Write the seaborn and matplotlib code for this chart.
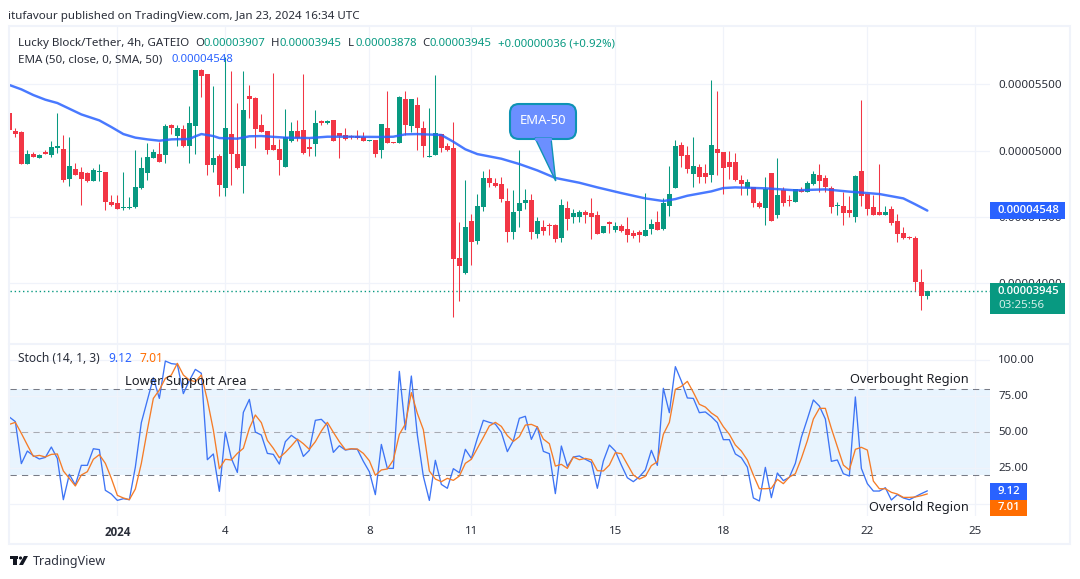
import numpy as np
import pandas as pd
import seaborn as sns
import matplotlib.pyplot as plt
from matplotlib.patches import FancyBboxPatch, Polygon, Rectangle, Circle
from matplotlib.transforms import ScaledTranslation

# prices are in units of 1e-8 USDT
opens = [5286,5150,5140,4899,4974,4944,4990,4967,5020,5012,
         4786,4861,4839,4831,4771,4841,4839,4613,4605,4570,
         4570,4575,4718,4831,4944,4974,4967,5193,5110,5163,
         5035,5186,5608,5577,4892,4959,4718,5125,4974,4884,
         5412,5397,5193,5148,5042,5012,4876,5072,5148,5155,
         5027,5050,5221,5211,5231,5133,5118,5110,5110,5100,
         5075,5080,5005,5170,5065,5057,5389,5186,5344,5170,
         4954,4967,5125,5035,5020,4191,4077,4469,4319,4575,
         4794,4756,4748,4620,4386,4545,4605,4628,4371,4424,
         4442,4439,4341,4567,4500,4500,4537,4530,4515,4379,
         4459,4402,4432,4409,4379,4386,4356,4409,4462,4409,
         4582,4718,5042,4967,4824,4876,4831,4816,5012,4990,
         4914,4914,4778,4718,4726,4605,4567,4831,4515,4703,
         4628,4613,4703,4688,4748,4816,4794,4718,4585,4582,
         4552,4500,4846,4673,4575,4537,4515,4560,4469,4379,
         4349,4341,4010,3907]
highs = [5286,5173,5148,5005,4990,4974,5005,5072,5283,5118,
         5103,4907,4876,4839,4869,4899,4839,4665,4665,4839,
         4650,5005,4952,5057,5012,5065,5201,5201,5193,5193,
         5336,5608,5615,5577,5487,4974,5708,5600,5359,5600,
         5495,5404,5276,5148,5585,5088,5314,5216,5231,5577,
         5095,5306,5231,5231,5231,5133,5170,5118,5155,5140,
         5080,5080,5201,5449,5065,5412,5449,5389,5404,5223,
         5321,5570,5125,5057,5216,4462,4778,4522,4673,4846,
         4861,4794,4801,4718,4703,5005,4711,4673,4500,4477,
         4454,4447,4635,4620,4560,4552,4552,4643,4545,4432,
         4469,4462,4447,4500,4402,4402,4680,4484,4545,4643,
         4884,5080,5065,5035,5103,4899,4899,5532,5449,4990,
         4997,4982,4816,4786,4726,4620,4801,4831,4944,4726,
         4665,4711,4726,4771,4846,4899,4816,4733,4613,4688,
         4658,4816,5382,4673,4665,4899,4582,4582,4522,4424,
         4356,4356,4108,3945]
lows = [5155,5105,4899,4899,4952,4944,4972,4954,4982,4766,
        4733,4816,4590,4763,4771,4771,4552,4582,4560,4552,
        4560,4565,4711,4778,4944,4914,4907,5125,5035,5027,
        4907,4974,5404,4816,4839,4658,4658,4741,4861,4680,
        5246,5020,5140,4974,5005,4816,4876,5065,5072,4974,
        4959,4959,5193,5201,5072,4944,5080,5090,5090,5072,
        5075,4952,4944,5057,5060,5057,5118,5140,5005,4952,
        4954,4967,4990,5000,3746,3866,4070,4138,4296,4545,
        4726,4726,4613,4311,4334,4424,4560,4334,4341,4364,
        4364,4311,4311,4402,4454,4462,4454,4334,4371,4379,
        4379,4386,4386,4311,4341,4311,4356,4371,4402,4402,
        4507,4718,4876,4831,4726,4756,4756,4763,4816,4673,
        4786,4771,4665,4665,4575,4565,4439,4469,4492,4582,
        4582,4613,4688,4688,4741,4688,4688,4530,4515,4439,
        4500,4462,4582,4515,4515,4515,4515,4439,4311,4334,
        4334,3942,3799,3878]
closes = [5155,5125,4899,4974,4952,4967,4974,5027,5035,4778,
          4884,4816,4786,4771,4854,4846,4613,4590,4560,4575,
          4575,4726,4869,4952,4990,4914,5186,5170,5170,5035,
          5208,5608,5562,4892,4944,4741,5170,4974,4869,5306,
          5389,5163,5140,5005,5005,4929,5103,5148,5095,4982,
          5012,5208,5211,5221,5072,5110,5088,5103,5098,5075,
          5080,4974,5201,5057,5060,5404,5193,5389,5170,5035,
          4959,5133,5020,5005,4183,4130,4424,4311,4582,4794,
          4756,4733,4635,4386,4537,4605,4628,4386,4469,4394,
          4434,4334,4590,4484,4530,4537,4515,4500,4371,4432,
          4449,4432,4394,4364,4356,4364,4402,4447,4402,4605,
          4673,5035,4959,4861,4884,4801,4801,5042,4982,4869,
          4876,4778,4748,4763,4605,4575,4711,4469,4665,4605,
          4620,4711,4688,4756,4824,4771,4726,4575,4590,4530,
          4530,4809,4658,4560,4515,4515,4537,4454,4371,4341,
          4341,4010,3904,3945]

ema_bars = [0,2,4,6,8,10,12,15,17,19,21,23,25,27,30,31,32,34,35,38,40,42,46,50,53,57,62,64,66,68,72,
            74,76,78,82,85,88,91,95,98,102,106,109,111,113,117,119,121,126,131,136,140,145,149,151,153]
ema_vals = [5495,5462,5419,5384,5359,5316,5273,5228,5178,5125,5098,5085,5075,5085,5088,5108,5125,5110,5095,5090,5108,5110,5098,5095,5105,5105,5103,5105,5123,5125,5118,
            5067,5010,4974,4939,4899,4851,4794,4758,4723,4680,4640,4620,4635,4660,4693,4718,4723,4716,4701,4708,4691,4673,4640,4595,4548]

stoch_k = [60.3,57.1,28.0,36.7,33.5,31.2,32.3,39.5,31.6,3.0,
           20.6,13.2,26.8,26.8,38.3,37.7,9.5,6.9,2.5,3.7,
           3.0,25.6,56.4,72.1,87.5,73.2,99.1,97.3,96.8,76.5,
           85.5,93.3,90.6,30.7,34.7,8.8,49.9,31.6,21.9,63.5,
           72.5,49.9,47.8,35.1,34.4,27.7,43.2,47.6,44.6,33.0,
           37.2,58.0,58.7,54.5,35.8,40.4,37.4,38.1,37.9,29.6,
           22.4,6.5,41.3,24.7,24.7,91.9,51.5,88.7,47.8,19.2,
           2.5,30.3,13.6,10.9,24.5,21.7,37.9,31.6,45.5,58.0,
           56.6,55.4,49.7,36.3,43.9,59.4,60.8,44.8,53.6,36.5,
           34.9,7.2,40.2,26.1,32.6,33.3,31.0,28.9,10.9,29.8,
           40.9,36.7,27.0,18.2,15.5,18.9,23.6,37.2,26.8,80.2,
           63.3,95.2,85.2,73.5,73.2,63.3,63.8,60.5,56.4,44.6,
           44.6,34.7,32.1,25.6,4.2,2.1,25.4,4.4,21.5,16.2,
           18.5,28.2,46.2,58.9,72.1,67.9,58.9,29.6,30.5,21.0,
           19.4,74.2,24.7,14.1,9.0,9.0,11.3,2.8,6.5,4.2,
           3.0,5.1,7.2,9.12]
stoch_d = [55.2,56.6,49.0,40.9,33.0,33.7,32.6,34.4,34.7,22.9,
           17.8,12.5,20.1,22.4,31.0,34.2,28.2,17.8,6.0,4.2,
           3.0,10.4,28.2,51.3,73.2,79.0,87.1,89.4,97.5,89.4,
           85.9,84.8,89.4,72.1,51.3,24.5,31.0,30.5,35.1,38.6,
           52.4,61.7,56.4,44.1,38.6,32.1,35.8,40.2,45.0,41.8,
           37.9,43.2,50.6,56.6,49.7,43.2,37.7,38.3,38.1,35.1,
           30.0,19.9,23.6,24.3,30.5,48.3,55.4,77.2,62.8,51.5,
           22.9,17.3,15.5,17.8,16.4,19.4,28.2,31.0,38.6,46.2,
           54.1,56.6,53.8,47.4,43.4,46.7,54.7,55.2,53.4,45.0,
           41.8,26.3,27.5,24.7,32.6,30.7,31.6,30.7,23.1,22.9,
           27.0,35.6,34.9,27.5,20.1,17.3,19.2,26.6,29.3,48.3,
           56.6,79.5,81.5,85.0,77.4,69.1,67.2,63.1,60.3,53.6,
           48.3,40.9,36.7,30.5,20.1,10.6,10.6,10.9,17.1,14.1,
           18.7,21.0,31.6,43.9,58.9,66.3,66.3,52.4,39.7,27.0,
           23.6,37.9,39.3,37.4,15.9,10.6,10.6,8.1,6.9,4.6,
           4.6,4.9,5.8,7.01]

price_ticks = [4000, 4500, 5000, 5500]
stoch_ticks = [0, 25, 50, 75, 100]
stoch_tick_labels = ['', '25.00', '50.00', '75.00', '100.00']
date_bars = [18, 36, 60, 77, 101, 119, 143, 161]
date_labels = ['2024', '4', '8', '11', '15', '18', '22', '25']

GREEN = '#089981'
RED = '#f23645'
BLUE = '#2962ff'
ORANGE = '#ff6d00'
GRID = '#f0f3fa'
TEXT = '#2a2e39'
BOLD_FONT = ['Open Sans', 'DejaVu Sans']

sns.set_theme(style='white')
plt.rcParams['font.family'] = ['Noto Sans', 'DejaVu Sans']

W, H = 1080, 579
fig = plt.figure(figsize=(W / 100, H / 100), dpi=100, facecolor='white')


def pane(x0, y0, x1, y1):
    return fig.add_axes([x0 / W, 1 - y1 / H, (x1 - x0) / W, (y1 - y0) / H])


ax_p = pane(10, 27, 990, 343)
ax_s = pane(10, 345, 990, 516)
df = pd.DataFrame({'open': opens, 'high': highs, 'low': lows, 'close': closes})
df['bar'] = df.index
df['up'] = df.close >= df.open
colors = df.up.map({True: GREEN, False: RED})

# candles
ax_p.vlines(df.bar, df.low, df.high, colors=colors, lw=0.75, zorder=2)
ax_p.bar(df.bar, (df.close - df.open).abs().clip(lower=6), bottom=df[['open', 'close']].min(axis=1),
         width=0.8, color=colors, lw=0, zorder=3)
sns.lineplot(x=ema_bars, y=ema_vals, ax=ax_p, color=BLUE, lw=1.75, alpha=0.85, zorder=4)
ax_p.axhline(closes[-1], color=GREEN, lw=1, ls=(0, (1, 2)), zorder=1)

# stochastic
ax_s.axhspan(20, 80, color='#e8f4fe', lw=0, zorder=0)
bars = np.arange(len(stoch_k))
sns.lineplot(x=bars, y=stoch_k, ax=ax_s, color='#3d74f5', lw=0.95, zorder=4)
sns.lineplot(x=bars, y=stoch_d, ax=ax_s, color='#f57c28', lw=0.95, zorder=5)
ax_s.axhline(80, color='#787b86', lw=0.75, ls=(0, (6, 5)), zorder=2)
ax_s.axhline(50, color='#a8abb3', lw=0.75, ls=(0, (6, 5)), zorder=2)
ax_s.axhline(20, color='#787b86', lw=0.75, ls=(0, (6, 5)), zorder=2)

for ax in (ax_p, ax_s):
    ax.set_xlim(0.11, 163.44)
    ax.set_xticks(date_bars)
    ax.set_facecolor('white')
    ax.grid(True, color=GRID, lw=0.9)
    ax.set_axisbelow(True)
    ax.set_xlabel('')
    ax.set_ylabel('')
    sns.despine(ax=ax, left=True, bottom=True, right=True, top=True)
    ax.yaxis.tick_right()
    ax.tick_params(length=0, colors=TEXT, labelsize=8.3)

ax_p.set_ylim(3550, 5932)
ax_p.set_yticks(price_ticks)
ax_p.set_yticklabels([f'{t / 1e8:.8f}' for t in price_ticks])
ax_p.tick_params(axis='y', pad=6)
ax_p.tick_params(axis='x', labelbottom=False)

ax_s.set_ylim(-8.3, 110.2)
ax_s.set_yticks(stoch_ticks)
ax_s.set_yticklabels(stoch_tick_labels)
ax_s.tick_params(axis='y', pad=6)
ax_s.set_xticklabels(date_labels)
ax_s.tick_params(axis='x', pad=7)
first = ax_s.get_xticklabels()[0]
first.set_fontfamily(BOLD_FONT)
first.set_fontweight('bold')
shift = ScaledTranslation(0, 1 / 100, fig.dpi_scale_trans)
for t in ax_s.get_yticklabels():
    t.set_transform(t.get_transform() + shift)

# overlay in pixels for the header, price tags and callout
ov = fig.add_axes([0, 0, 1, 1], zorder=10)
ov.set_xlim(0, W)
ov.set_ylim(H, 0)
ov.axis('off')
ov.patch.set_alpha(0)

ov.add_patch(Rectangle((9, 26), 1061, 518, fill=False, ec=GRID, lw=1.5))
ov.plot([9, 1070], [344, 344], color=GRID, lw=1.5)


def label(x, y, s, color=TEXT, size=8.35, **kw):
    kw.setdefault('ha', 'left')
    ov.text(x, y, s, color=color, fontsize=size, va='center', **kw)


def tag(x, y, s, color='white'):
    label(x, y, s, color=color, size=8.2, family=BOLD_FONT, fontweight='semibold')


label(8, 16.5, 'itufavour published on TradingView.com, Jan 23, 2024 16:34 UTC')
label(18, 43.5, 'Lucky Block/Tether, 4h, GATEIO', size=8.35)
for x, s in [(195, 'O'), (271, 'H'), (348, 'L'), (422, 'C')]:
    label(x, 43.5, s, size=8.2)
for x, s in [(203, '0.00003907'), (279, '0.00003945'), (355, '0.00003878'), (430, '0.00003945'),
             (498, '+0.00000036 (+0.92%)')]:
    label(x, 43.5, s, color=GREEN, size=8.2)
label(18, 60, 'EMA (50, close, 0, SMA, 50)', size=8.35)
label(172, 60, '0.00004548', color=BLUE, size=8.2)

label(18, 358, 'Stoch (14, 1, 3)', size=8.6)
label(108, 358, '9.12', color=BLUE, size=8.6)
label(139, 358, '7.01', color=ORANGE, size=8.6)
label(125, 381, 'Lower Support Area', color='#1c1f26', size=9.3)
label(969, 379, 'Overbought Region', color='#1c1f26', size=9.2, ha='right')
label(969, 508, 'Oversold Region', color='#1c1f26', size=9.2, ha='right')

# last value tags
ov.add_patch(Rectangle((990, 202), 75, 17, color=BLUE, lw=0))
tag(998, 210.5, '0.00004548')
ov.add_patch(Rectangle((990, 283), 75, 31, color=GREEN, lw=0))
tag(998, 291, '0.00003945')
label(998, 306, '03:25:56', color='#d5efe9', size=8.3)
ov.add_patch(Rectangle((990, 483), 37, 17, color=BLUE, lw=0))
tag(998, 491.5, '9.12')
ov.add_patch(Rectangle((990, 500), 37, 16, color=ORANGE, lw=0))
tag(998, 508, '7.01')

# callout
ov.add_patch(FancyBboxPatch((516, 110), 54, 23, boxstyle='round,pad=6,rounding_size=9',
                            fc='#6b8fff', ec='#0e93b4', lw=1.5, zorder=2))
ov.add_patch(Polygon([(535, 138), (555.7, 181), (551, 138)], closed=True,
                     fc='#6b8fff', ec='#0e93b4', lw=1, zorder=3))
ov.plot([536, 550], [138.5, 138.5], color='#6b8fff', lw=2.5, zorder=4)
ov.text(543, 121, 'EMA-50', color='white', fontsize=9.4, ha='center', va='center', zorder=5)

# bottom logo
ov.add_patch(Rectangle((10, 556), 8, 3, color='#131722', lw=0))
ov.add_patch(Rectangle((13, 556), 4, 9, color='#131722', lw=0))
ov.add_patch(Circle((20.5, 558), 1.6, color='#131722', lw=0))
ov.add_patch(Polygon([(24, 556), (28, 556), (23, 565), (19, 565)], closed=True, color='#131722', lw=0))
label(33, 561, 'TradingView', color='#2f3340', size=9)

fig.savefig('out.png', dpi=100, facecolor='white')
